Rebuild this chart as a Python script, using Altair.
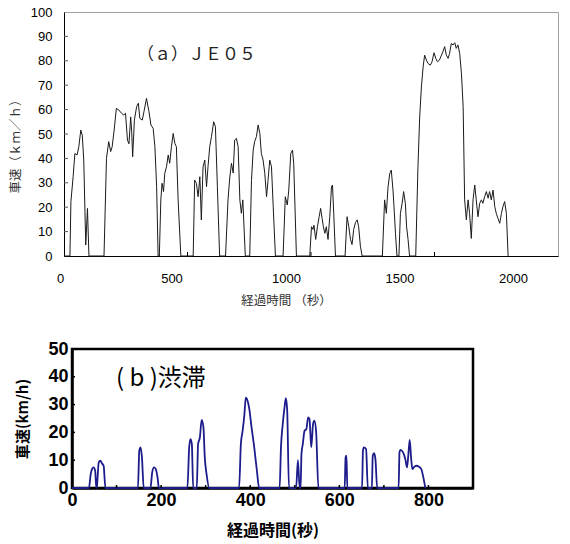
import altair as alt
import pandas as pd

# ---------------- (a) JE05 driving cycle ----------------
time_a = [0, 24, 28, 37, 44, 53, 60, 68, 74, 80, 88, 95, 101,
          162, 172, 181, 189, 195, 203, 212, 222, 233, 242, 249, 257, 263, 270, 274, 278,
          285, 294, 301, 307, 317, 325, 334, 344, 352, 361, 368, 375, 381,
          386, 392, 397, 403, 408, 415, 422, 428, 435, 442, 449, 455, 462, 473,
          523, 529, 536, 543, 550, 556, 563, 570, 577, 583, 590, 597, 606, 613, 621, 630,
          654, 664, 671, 678, 685, 691, 698, 705, 712, 718, 724, 734,
          752, 759, 766, 772, 779, 786, 793, 799, 806, 813, 820, 826, 833, 840, 847, 856,
          887, 896, 904, 910, 918, 925, 930, 941,
          995, 1002, 1008, 1012, 1019, 1026, 1033, 1039, 1045, 1050, 1056, 1062, 1069, 1076, 1083, 1087, 1092, 1099,
          1138, 1146, 1153, 1160, 1166, 1173, 1180, 1187, 1193, 1200, 1207,
          1289, 1298, 1305, 1312, 1319, 1325, 1332, 1336, 1342, 1348,
          1356, 1362, 1369, 1375, 1382, 1387, 1393, 1399,
          1424, 1433, 1440, 1447, 1454, 1460, 1467, 1474, 1483, 1490, 1498, 1505, 1512, 1520,
          1528, 1534, 1541, 1548, 1555, 1561, 1568, 1575, 1582, 1588, 1595, 1602, 1609, 1616,
          1622, 1629, 1636, 1642, 1649, 1656, 1663, 1669, 1676, 1683, 1690, 1696, 1703, 1710,
          1717, 1723, 1730, 1737, 1744, 1750, 1757, 1764, 1771, 1777, 1784, 1791, 1798]
speed_a = [0, 0, 22.3, 32.5, 42, 41.4, 44.8, 51.6, 49.5, 39.3, 4.5, 19.5, 0,
           0, 40, 46.9, 42.8, 44.8, 51.6, 60.5, 59.8, 58.5, 57.8, 58.5, 47.5, 46, 57, 51, 40.7,
           55.7, 61.2, 62.6, 56.4, 55.7, 59.8, 64.6, 59.2, 53.7, 52.3, 44.8, 28.4, 0,
           0, 23, 29.8, 26.4, 33.9, 36.6, 41.4, 38, 44.8, 50.2, 46.1, 44.8, 23, 0,
           0, 31.1, 29.8, 24.3, 32.5, 14.8, 36.6, 39.3, 28.4, 36.6, 44.8, 48.9, 55, 53, 28.4, 0,
           0, 23, 32, 38, 34, 47.5, 48.2, 44.8, 23, 17.5, 23, 0,
           0, 31, 43.4, 46.9, 48.9, 53.7, 50.2, 42, 39.3, 33.9, 24.3, 31, 39.3, 36.6, 20.2, 0,
           0, 24.3, 20.9, 27, 42, 43.4, 38, 0,
           0, 12, 10.9, 12.6, 6.8, 12, 16.1, 19.5, 15.4, 12, 9.3, 12, 6.8, 16.1, 28.4, 29.1, 17.5, 0,
           0, 16.1, 12, 6.8, 4.7, 10.9, 13.7, 14.8, 12, 4, 0,
           0, 23, 17.5, 28.4, 33.9, 35.2, 27, 20.2, 9.3, 0,
           0, 17.5, 21.6, 26.4, 21.6, 12, 6.8, 0,
           0, 36.6, 57, 69.3, 77.5, 82.3, 80.3, 78.9, 78.2, 79.6, 83.3, 81, 79.6, 80.3,
           82.3, 83.7, 85.8, 82.3, 81, 83, 87.1, 86.5, 87.4, 85.1, 86.5, 83, 74.9, 61.2,
           23, 14.8, 23, 17.5, 7.2, 23, 29.1, 23, 16.1, 21.6, 23, 21.6, 24.3, 26.4,
           23.7, 26.4, 23, 27, 20.2, 17.5, 15.4, 13.4, 17.5, 20.2, 22.3, 17.5, 0]

# ---------------- (b) congestion cycle ----------------
time_b = [0, 38, 42, 45, 48.5, 52, 54.5, 56, 60, 63.6, 67, 71, 75,
          148, 151, 154, 157, 161,
          176, 180, 184, 188, 192, 195,
          259, 263, 266, 269, 272,
          280, 283, 287, 291, 295, 298, 302, 308,
          375, 379, 383, 387, 390, 394, 398, 403, 409, 415, 420,
          466, 469, 473, 477, 480, 483, 487,
          503, 507, 511, 513, 515, 518, 522, 526, 530, 533, 537, 541, 544, 548, 553,
          612, 614, 616, 618,
          651, 653, 655, 660, 664,
          673, 675, 678, 681, 685,
          733, 735, 737, 743, 748, 752, 755, 758, 761, 764, 767, 773, 778, 784, 787, 793]
speed_b = [0, 0, 5, 6.8, 7.4, 6.2, 0, 0.8, 9.2, 9.8, 8.9, 8.0, 0,
           0, 13.4, 14.6, 11, 0,
           0, 5.6, 7.4, 6.8, 3.8, 0,
           0, 14.6, 17.6, 15.8, 0,
           0, 15.8, 18.2, 24.5, 21.8, 11, 5, 0,
           0, 15.8, 20.6, 26.6, 32.5, 31.4, 28.4, 21.8, 14.6, 6.2, 0,
           0, 14.6, 23, 29, 32.3, 27.8, 0,
           0, 10, 0, 0, 12.2, 15.8, 20.6, 21.2, 25.4, 24.8, 14.6, 23, 24.2, 20, 0,
           0, 11, 11.6, 0,
           0, 13.4, 14.6, 14, 0,
           0, 11.6, 12.5, 10.4, 0,
           0, 12.8, 13.7, 12.8, 10.4, 7.4, 12.2, 17.3, 11, 6.8, 7.4, 8, 7.7, 6.8, 5, 0]

# ---------------- axis ticks and texts ----------------
x_labels_a = [0, 500, 1000, 1500, 2000]
x_inner_ticks_a = [500, 1000, 1500]
y_labels_a = [0, 10, 20, 30, 40, 50, 60, 70, 80, 90, 100]
y_inner_ticks_a = [10, 20, 30, 40, 50, 60, 70, 80, 90]
x_labels_b = [0, 200, 400, 600, 800]
x_inner_ticks_b = [100, 200, 300, 400, 500, 600, 700, 800]
y_labels_b = [0, 10, 20, 30, 40, 50]
y_inner_ticks_b = [10, 20, 30, 40]

title_a = "（ａ）ＪＥ０５"
title_b = "( b )渋滞"
xtitle_a = "経過時間 （秒）"
ytitle_a = "車速（ｋｍ／ｈ）"
xtitle_b = "経過時間(秒)"
ytitle_b = "車速(km/h)"

JP = "Noto Sans CJK JP"
LAT = "Liberation Sans"

W_A, H_A = 494, 244
W_B, H_B = 401, 139

df_a = pd.DataFrame({"t": time_a, "v": speed_a})
df_b = pd.DataFrame({"t": time_b, "v": speed_b})

# compressed label placement as in the reference picture
label_shift_a = {
    "condition": [
        {"test": "datum.value == 0", "value": -4},
        {"test": "datum.value == 500", "value": -16},
        {"test": "datum.value == 1000", "value": -25},
        {"test": "datum.value == 1500", "value": -35},
    ],
    "value": -45,
}

xa = alt.X("t:Q", scale=alt.Scale(domain=[0, 2000], nice=False),
           axis=alt.Axis(values=x_labels_a, format="d", ticks=False, tickSize=0, grid=False,
                         domainColor="black", domainWidth=1,
                         labelFont=LAT, labelFontSize=13, labelColor="black",
                         labelPadding=16, labelFlush=False, labelOverlap=False,
                         labelOffset=label_shift_a,
                         title=xtitle_a, titleFont=JP, titleFontSize=12.5,
                         titleFontWeight="normal", titleColor="#333",
                         titlePadding=9, titleX=222, titleAlign="center"))
ya = alt.Y("v:Q", scale=alt.Scale(domain=[0, 100], nice=False),
           axis=alt.Axis(values=y_labels_a, format="d", ticks=False, tickSize=0, grid=False,
                         domainColor="black", domainWidth=1,
                         labelFont=LAT, labelFontSize=13, labelColor="black",
                         labelPadding=12,
                         title=ytitle_a, titleFont=JP, titleFontSize=12.5,
                         titleFontWeight="normal", titleColor="#333",
                         titlePadding=8, titleY=131, titleAlign="center"))

line_a = alt.Chart(df_a).mark_line(color="#1a1a1a", strokeWidth=1).encode(x=xa, y=ya)
xt_a = alt.Chart(pd.DataFrame({"t": x_inner_ticks_a})).mark_rule(color="black", strokeWidth=1).encode(
    x=xa, y=alt.value(H_A), y2=alt.value(H_A - 4))
yt_a = alt.Chart(pd.DataFrame({"v": y_inner_ticks_a})).mark_rule(color="#555", strokeWidth=1).encode(
    y=ya, x=alt.value(0), x2=alt.value(4))
txt_a = alt.Chart(pd.DataFrame({"s": [title_a]})).mark_text(
    font=JP, fontSize=17, align="left", baseline="middle", color="#222").encode(
    x=alt.value(73), y=alt.value(43), text="s:N")

top = alt.layer(line_a, xt_a, yt_a, txt_a).properties(
    width=W_A, height=H_A, view=alt.ViewBackground(stroke="#a0a0a0", strokeWidth=1))

xb = alt.X("t:Q", scale=alt.Scale(domain=[0, 900], nice=False),
           axis=alt.Axis(values=x_labels_b, format="d", ticks=False, tickSize=0, grid=False,
                         domainColor="black", domainWidth=2.5,
                         labelFont=LAT, labelFontSize=18, labelFontWeight="bold",
                         labelColor="black", labelPadding=3, labelFlush=False,
                         labelOverlap=False,
                         title=xtitle_b, titleFont=JP, titleFontSize=16,
                         titleFontWeight="bold", titleColor="black", titlePadding=13))
yb = alt.Y("v:Q", scale=alt.Scale(domain=[0, 50], nice=False),
           axis=alt.Axis(values=y_labels_b, format="d", ticks=False, tickSize=0, grid=False,
                         domainColor="black", domainWidth=2.5,
                         labelFont=LAT, labelFontSize=18, labelFontWeight="bold",
                         labelColor="black", labelPadding=4,
                         title=ytitle_b, titleFont=JP, titleFontSize=15,
                         titleFontWeight="bold", titleColor="black", titlePadding=17))

line_b = alt.Chart(df_b).mark_line(color="#1c1c8c", strokeWidth=1.8, interpolate="monotone").encode(x=xb, y=yb)
xt_b = alt.Chart(pd.DataFrame({"t": x_inner_ticks_b})).mark_rule(color="black", strokeWidth=1.5).encode(
    x=xb, y=alt.value(H_B), y2=alt.value(H_B - 3))
yt_b = alt.Chart(pd.DataFrame({"v": y_inner_ticks_b})).mark_rule(color="black", strokeWidth=1.5).encode(
    y=yb, x=alt.value(0), x2=alt.value(3))
txt_b = alt.Chart(pd.DataFrame({"s": [title_b]})).mark_text(
    font=JP, fontSize=24, align="left", baseline="middle", color="black").encode(
    x=alt.value(44), y=alt.value(30), text="s:N")

bottom = alt.layer(line_b, xt_b, yt_b, txt_b).properties(
    width=W_B, height=H_B, view=alt.ViewBackground(stroke="black", strokeWidth=2.5))

spacer = alt.Chart(pd.DataFrame({"s": [0]})).mark_point(opacity=0).encode(
    x=alt.X("s:Q", axis=None), y=alt.Y("s:Q", axis=None)).properties(
    width=8, height=H_B, view=alt.ViewBackground(stroke="transparent"))

bottom_row = alt.hconcat(spacer, bottom, spacing=0, bounds="flush")

chart = alt.vconcat(top, bottom_row, spacing=31).properties(
    padding={"left": 8, "top": 5, "right": 5, "bottom": 5},
    background="white",
).resolve_scale(x="independent", y="independent")

chart.save("out.html", embed_options={"renderer": "svg", "actions": False})
